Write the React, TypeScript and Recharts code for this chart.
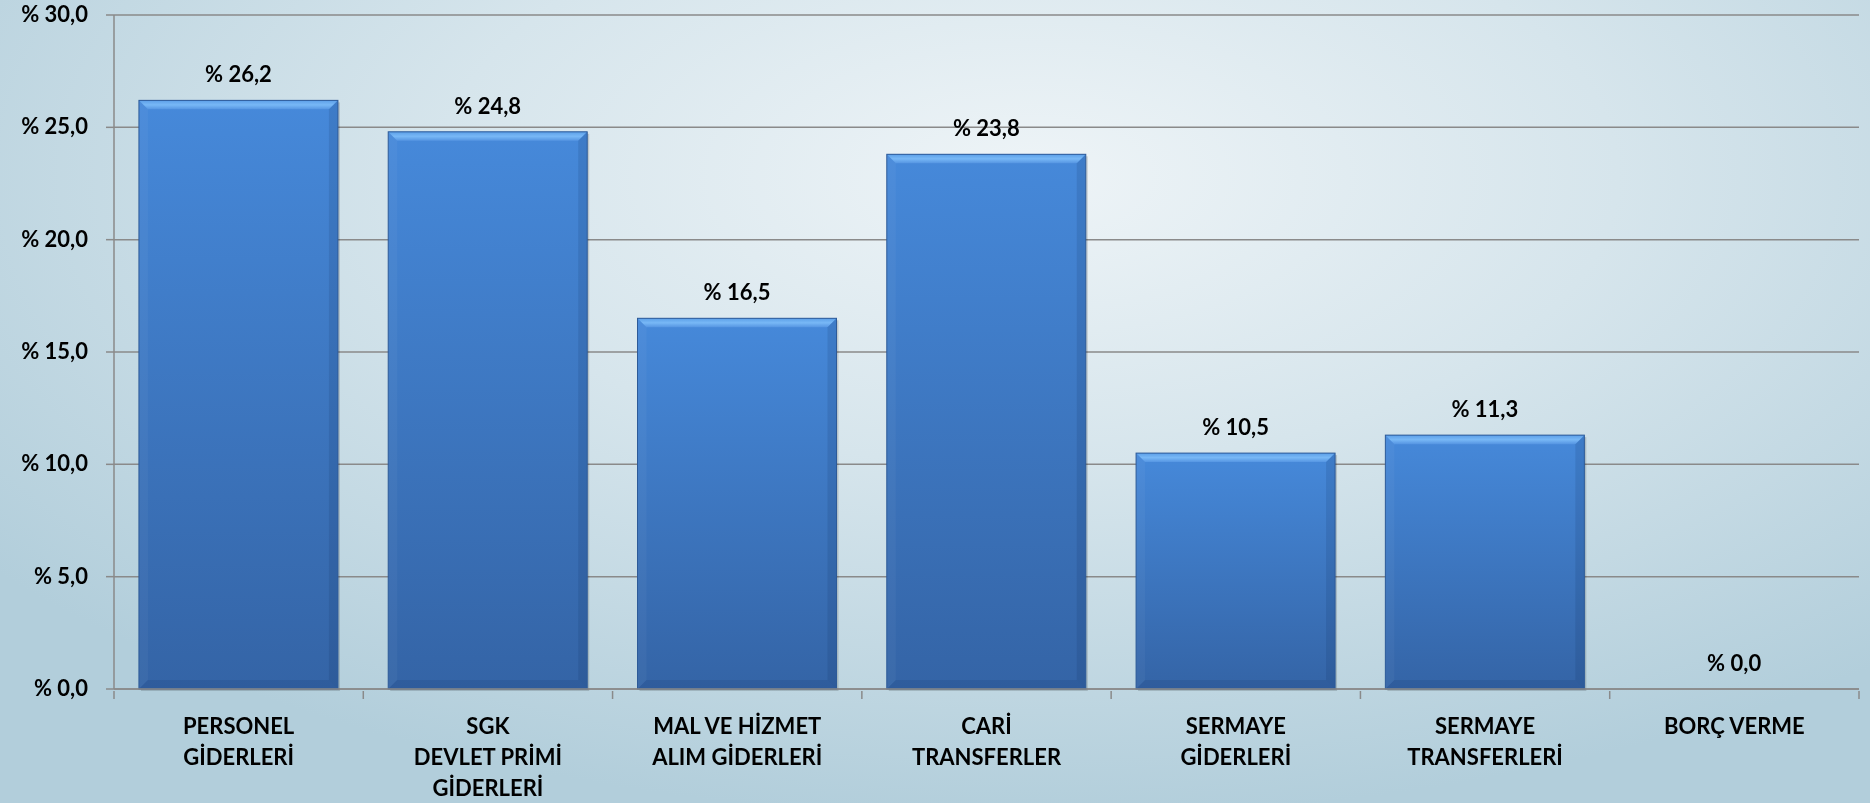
import React from "react";
import { BarChart, Bar, XAxis, YAxis, CartesianGrid, LabelList } from "recharts";

const CATEGORIES = [
  "PERSONEL\nGİDERLERİ",
  "SGK\nDEVLET PRİMİ\nGİDERLERİ",
  "MAL VE HİZMET\nALIM GİDERLERİ",
  "CARİ\nTRANSFERLER",
  "SERMAYE\nGİDERLERİ",
  "SERMAYE\nTRANSFERLERİ",
  "BORÇ VERME",
];
const SHARES = [26.2, 24.8, 16.5, 23.8, 10.5, 11.3, 0.0];
const Y_TICKS = [0, 5, 10, 15, 20, 25, 30];

const W = 1870;
const H = 803;
const LEFT = 114;
const RIGHT = 11;
const BAND = (W - LEFT - RIGHT) / CATEGORIES.length;

const FONT = "Lato, 'Open Sans', sans-serif";
const FS = 22;
const fmt = (v: number) => `% ${v.toFixed(1).replace(".", ",")}`;

const data = CATEGORIES.map((name, i) => ({ name, share: SHARES[i] }));

function BevelBar(props: any) {
  const { x, y, width, height } = props;
  if (!height || height <= 0) return null;
  const b = Math.min(9, height / 2);
  return (
    <g>
      <rect x={x + 2} y={y + 2} width={width} height={height} fill="rgba(0,0,0,0.15)" />
      <rect x={x} y={y} width={width} height={height} fill="url(#barBody)" />
      {/* top bevel */}
      <polygon points={`${x},${y} ${x + width},${y} ${x + width - b},${y + b} ${x + b},${y + b}`} fill="url(#bevelTop)" />
      {/* left bevel */}
      <polygon points={`${x},${y} ${x + b},${y + b} ${x + b},${y + height - b} ${x},${y + height}`} fill="rgba(255,255,255,0.04)" />
      {/* right bevel */}
      <polygon points={`${x + width},${y} ${x + width},${y + height} ${x + width - b},${y + height - b} ${x + width - b},${y + b}`} fill="rgba(10,30,70,0.12)" />
      {/* bottom bevel */}
      <polygon points={`${x},${y + height} ${x + width},${y + height} ${x + width - b},${y + height - b} ${x + b},${y + height - b}`} fill="rgba(10,30,70,0.1)" />
      <rect x={x} y={y} width={width} height={height} fill="none" stroke="#2d5a98" strokeWidth={1} />
    </g>
  );
}

function CatTick(props: any) {
  const { x, y, payload, index } = props;
  const lines = String(payload.value).split("\n");
  const axisY = y - 8;
  return (
    <g>
      <line x1={x - BAND / 2} y1={axisY} x2={x - BAND / 2} y2={axisY + 8} stroke="#8a8a8a" strokeWidth={1.5} />
      {index === CATEGORIES.length - 1 && (
        <line x1={x + BAND / 2} y1={axisY} x2={x + BAND / 2} y2={axisY + 8} stroke="#8a8a8a" strokeWidth={1.5} />
      )}
      <text x={x} y={axisY + 43} textAnchor="middle" fontFamily={FONT} fontWeight={700} fontSize={FS} fill="#000">
        {lines.map((l, i) => (
          <tspan key={i} x={x} dy={i === 0 ? 0 : 31}>{l}</tspan>
        ))}
      </text>
    </g>
  );
}

function ValTick(props: any) {
  const { y, payload } = props;
  return (
    <text x={LEFT - 26} y={y} dy={7} textAnchor="end" fontFamily={FONT} fontWeight={700} fontSize={FS} fill="#000">
      {fmt(payload.value)}
    </text>
  );
}

export default function App() {
  return (
    <div
      style={{
        position: "fixed",
        left: 0,
        top: 0,
        width: W,
        height: H,
        background: "radial-gradient(ellipse 70% 80% at 55% 22%, #eef4f7 0%, #d6e5ec 45%, #b2cedb 100%)",
      }}
    >
      <BarChart width={W} height={H} data={data} margin={{ top: 15, right: RIGHT, bottom: 0, left: 0 }} barCategoryGap="10%">
        <defs>
          <linearGradient id="barBody" x1="0" y1="0" x2="0" y2="1">
            <stop offset="0%" stopColor="#4689da" />
            <stop offset="100%" stopColor="#3464a6" />
          </linearGradient>
          <linearGradient id="bevelTop" x1="0" y1="0" x2="0" y2="1">
            <stop offset="0%" stopColor="#5c9fe8" />
            <stop offset="50%" stopColor="#78b8f6" />
            <stop offset="100%" stopColor="#5595e2" />
          </linearGradient>
        </defs>
        <CartesianGrid vertical={false} stroke="#8a8a8a" strokeWidth={1.5} />
        <XAxis
          dataKey="name"
          height={114}
          interval={0}
          axisLine={{ stroke: "#8a8a8a", strokeWidth: 1.5 }}
          tickLine={false}
          tickSize={8}
          tick={<CatTick />}
        />
        <YAxis
          width={LEFT}
          domain={[0, 30]}
          ticks={Y_TICKS}
          axisLine={{ stroke: "#8a8a8a", strokeWidth: 1.5 }}
          tickLine={{ stroke: "#8a8a8a", strokeWidth: 1.5 }}
          tickSize={8}
          tick={<ValTick />}
        />
        <Bar dataKey="share" shape={<BevelBar />} isAnimationActive={false}>
          <LabelList
            dataKey="share"
            position="top"
            offset={18}
            formatter={(v: any) => fmt(Number(v))}
            style={{ fill: "#000", fontFamily: FONT, fontWeight: 700, fontSize: FS }}
          />
        </Bar>
      </BarChart>
    </div>
  );
}
